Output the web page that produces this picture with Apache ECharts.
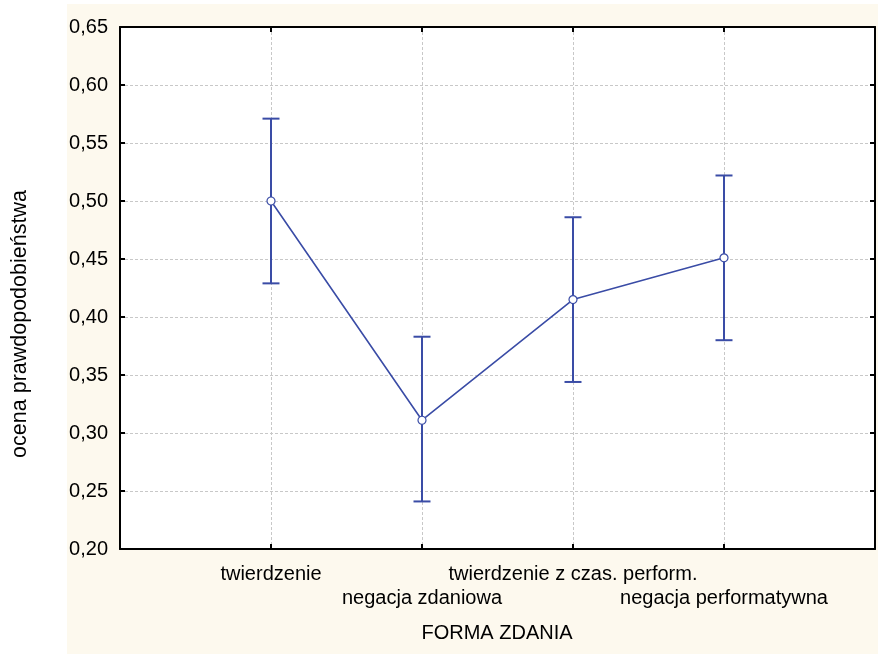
<!DOCTYPE html>
<html><head><meta charset="utf-8">
<script src="https://cdn.jsdelivr.net/npm/echarts@6/dist/echarts.min.js"></script>
<style>
html,body{margin:0;padding:0;background:#fff}
#main{width:878px;height:654px}
</style>
</head><body><div id="main"></div>
<script>
const categories = ['twierdzenie', 'negacja zdaniowa', 'twierdzenie z czas. perform.', 'negacja performatywna'];
const means = [0.500, 0.311, 0.415, 0.451];
const upper = [0.571, 0.383, 0.486, 0.522];
const lower = [0.429, 0.241, 0.344, 0.380];
const yMin = 0.20, yMax = 0.65, yStep = 0.05;
const xTitle = 'FORMA ZDANIA';
const yTitle = 'ocena prawdopodobieństwa';

const blue = '#3A4CA6';
const ff = '"Liberation Sans", Arial, sans-serif';
const chart = echarts.init(document.getElementById('main'));

const frameAxisX = (pos, labels) => ({
  type: 'value', position: pos, min: 0, max: categories.length + 1, interval: 1,
  axisLine: {show: true, onZero: false, lineStyle: {color: '#000', width: 2}},
  axisTick: {show: true, inside: true, length: 5, lineStyle: {color: '#000', width: 2}},
  splitLine: {show: labels, lineStyle: {color: '#c8c8c8', width: 1, type: [3, 2]}},
  axisLabel: labels ? {
    show: true, color: '#000', fontSize: 20, fontFamily: ff, lineHeight: 24, margin: 13,
    formatter: v => {
      const i = Math.round(v) - 1;
      if (i < 0 || i >= categories.length) return '';
      return (i % 2 === 1 ? '\n' : '') + categories[i];
    }
  } : {show: false}
});
const frameAxisY = (pos, labels) => ({
  type: 'value', position: pos, min: yMin, max: yMax, interval: yStep,
  axisLine: {show: true, onZero: false, lineStyle: {color: '#000', width: 2}},
  axisTick: {show: true, inside: true, length: 5, lineStyle: {color: '#000', width: 2}},
  splitLine: {show: labels, lineStyle: {color: '#c8c8c8', width: 1, type: [3, 2]}},
  axisLabel: labels ? {
    show: true, color: '#000', fontSize: 20, fontFamily: ff, margin: 12,
    formatter: v => v.toFixed(2).replace('.', ',')
  } : {show: false}
});

const option = {
  animation: false,
  backgroundColor: '#fff',
  graphic: [
    {type: 'rect', z: -10, silent: true, shape: {x: 67, y: 4, width: 811, height: 650}, style: {fill: '#FDF9EE'}},
    {type: 'text', x: 20, y: 324, rotation: Math.PI / 2, style: {text: yTitle, font: '21.5px ' + ff, fill: '#000', textAlign: 'center', textVerticalAlign: 'middle'}},
    {type: 'text', x: 497, y: 633, style: {text: xTitle, font: '20px ' + ff, fill: '#000', textAlign: 'center', textVerticalAlign: 'middle'}}
  ],
  grid: {left: 120, top: 27, right: 3, bottom: 105, show: true, backgroundColor: '#fff', borderColor: '#000', borderWidth: 0},
  xAxis: [frameAxisX('bottom', true), frameAxisX('top', false)],
  yAxis: [frameAxisY('left', true), frameAxisY('right', false)],
  series: [
    {
      type: 'custom', xAxisIndex: 0, yAxisIndex: 0, z: 3,
      data: categories.map((c, i) => [i + 1, lower[i], upper[i]]),
      renderItem: (params, api) => {
        const x = api.value(0);
        const pHi = api.coord([x, api.value(2)]);
        const pLo = api.coord([x, api.value(1)]);
        const w = 8.5;
        const style = {stroke: blue, lineWidth: 2};
        return {type: 'group', children: [
          {type: 'line', shape: {x1: pHi[0], y1: pHi[1], x2: pLo[0], y2: pLo[1]}, style},
          {type: 'line', shape: {x1: pHi[0] - w, y1: pHi[1], x2: pHi[0] + w, y2: pHi[1]}, style},
          {type: 'line', shape: {x1: pLo[0] - w, y1: pLo[1], x2: pLo[0] + w, y2: pLo[1]}, style}
        ]};
      }
    },
    {
      type: 'line', xAxisIndex: 0, yAxisIndex: 0, z: 4,
      data: means.map((m, i) => [i + 1, m]),
      symbol: 'circle', symbolSize: 8, showAllSymbol: true,
      lineStyle: {color: blue, width: 1.6},
      itemStyle: {color: '#fff', borderColor: blue, borderWidth: 1.2}
    }
  ]
};
chart.setOption(option);
</script>
</body></html>
